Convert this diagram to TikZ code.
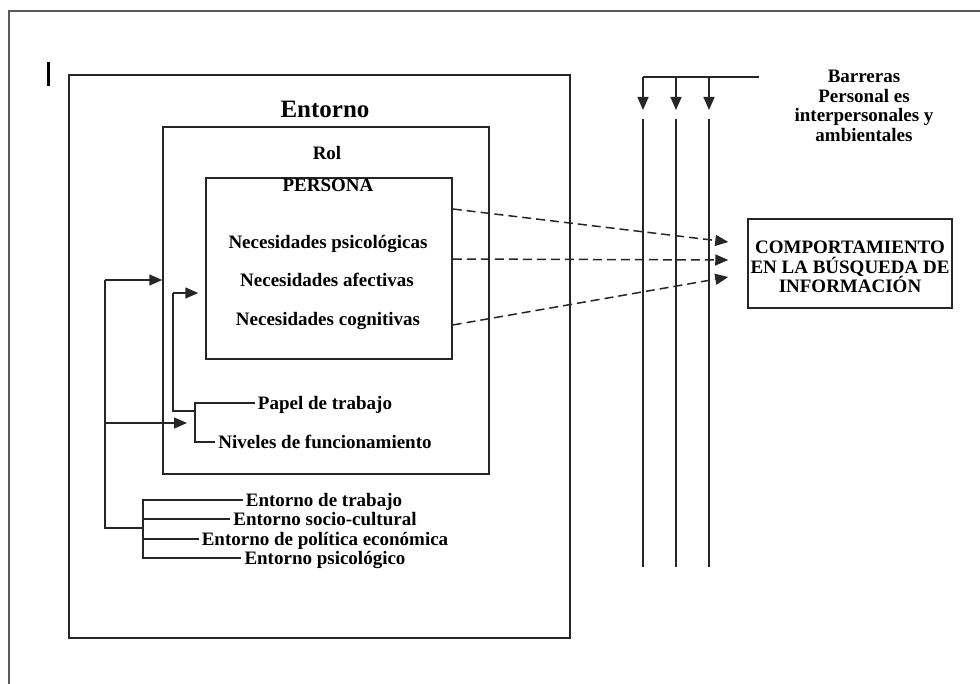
\documentclass[tikz,border=0pt]{standalone}
\usepackage{fontspec}
\setmainfont{Liberation Serif}
\usetikzlibrary{arrows.meta}
\definecolor{linegray}{HTML}{262626}
\definecolor{framegray}{HTML}{5A5A5A}

\begin{document}
\begin{tikzpicture}[
      x=1pt, y=-1pt,
      txt/.style={font=\bfseries\fontsize{19}{19.6}\selectfont},
      layer/.style={draw=linegray,line width=1.5pt,inner sep=0pt},
      lbl/.style={txt,inner sep=3pt,text height=12.5pt,text depth=0pt},
      conn/.style={draw=linegray,line width=1.5pt},
      arr/.style={conn,-{Triangle[length=13pt,width=11pt]}},
      dasharr/.style={arr,dash pattern=on 9pt off 5pt}
    ]
    \useasboundingbox (0,0) rectangle (980,684);
    \draw[framegray,line width=2pt] (9,11) rectangle (1000,700);
    \draw[black,line width=3pt] (48,62) -- (48,86);

    % capas
    \node[layer,minimum width=501pt,minimum height=563pt] (entorno) at (319.5,356.5) {};
    \node[layer,minimum width=326pt,minimum height=347pt] (rol) at (326,300.5) {};
    \node[layer,minimum width=246pt,minimum height=181pt] (persona) at (329,268.5) {};
    \node[layer,minimum width=204pt,minimum height=89pt] (comp) at (850,263.5) {};
    \node[txt,align=center,inner sep=0pt] (complbl) at ([yshift=-3.5pt]comp.center)
          {COMPORTAMIENTO\\EN LA BÚSQUEDA DE\\INFORMACIÓN};

    \node[lbl,font=\bfseries\fontsize{25}{26}\selectfont,text height=16.5pt] (entornolbl) at (325,109) {Entorno};
    \node[lbl] (rollbl) at (327,153) {Rol};
    \node[lbl] (personalbl) at (328,185) {PERSONA};
    \node[lbl] (psico) at (328,242) {Necesidades psicológicas};
    \node[lbl] (afect) at (327,280) {Necesidades afectivas};
    \node[lbl] (cogn) at (328,319) {Necesidades cognitivas};
    \node[lbl] (papel) at (325,403) {Papel de trabajo};
    \node[lbl] (niveles) at (325,442) {Niveles de funcionamiento};
    \node[lbl] (env1) at (324,500) {Entorno de trabajo};
    \node[lbl] (env2) at (325,519) {Entorno socio-cultural};
    \node[lbl] (env3) at (325,539) {Entorno de política económica};
    \node[lbl] (env4) at (325,558) {Entorno psicológico};
    \node[txt,align=center,anchor=north,inner sep=0pt] (barreras) at (864,70)
          {Barreras\\Personal es\\interpersonales y\\ambientales};

    % realimentacion
    \coordinate (trunktop) at (105,280);
    \coordinate (trunkmid) at (105,423);
    \coordinate (trunkbot) at (105,528);
    \coordinate (envfork) at (143,528);
    \coordinate (rolfork) at (195,411);
    \coordinate (persfb) at (173,293);

    \draw[conn] (trunktop) -- (trunkbot) -- (envfork);
    \draw[arr] (trunktop) -- (trunktop -| rol.west);
    \draw[arr] (trunkmid) -- ([xshift=-8pt]trunkmid -| rolfork);
    \draw[conn] (rolfork) -- (rolfork -| persfb) -- (persfb);
    \draw[arr] (persfb) -- ([xshift=-7pt]persfb -| persona.west);
    \draw[conn] (papel.west) -- (papel.west -| rolfork) -- (niveles.west -| rolfork) -- (niveles.west);

    \draw[conn] (env1.west) -- (env1.west -| envfork) -- (env4.west -| envfork) -- (env4.west);
    \draw[conn] (env2.west) -- (env2.west -| envfork);
    \draw[conn] (env3.west) -- (env3.west -| envfork);

    % barreras
    \coordinate (barend) at (759,77);
    \foreach \bx [count=\i] in {643,676,709} {
      \coordinate (bar\i) at (\bx,77);
      \draw[arr] (bar\i) -- ++(0,33);
      \draw[conn] ([yshift=-42pt]bar\i) -- ++(0,448);
    }
    \draw[conn] (bar1) -- (barend);

    \draw[dasharr] ([yshift=59.5pt]persona.east) -- ([xshift=-19pt,yshift=21.5pt]comp.west);
    \draw[dasharr] ([yshift=9.5pt]persona.east) -- ([xshift=-19pt,yshift=3.5pt]comp.west);
    \draw[dasharr] ([yshift=-56.5pt]persona.east) -- ([xshift=-19pt,yshift=-13.5pt]comp.west);
  \end{tikzpicture}
\end{document}
